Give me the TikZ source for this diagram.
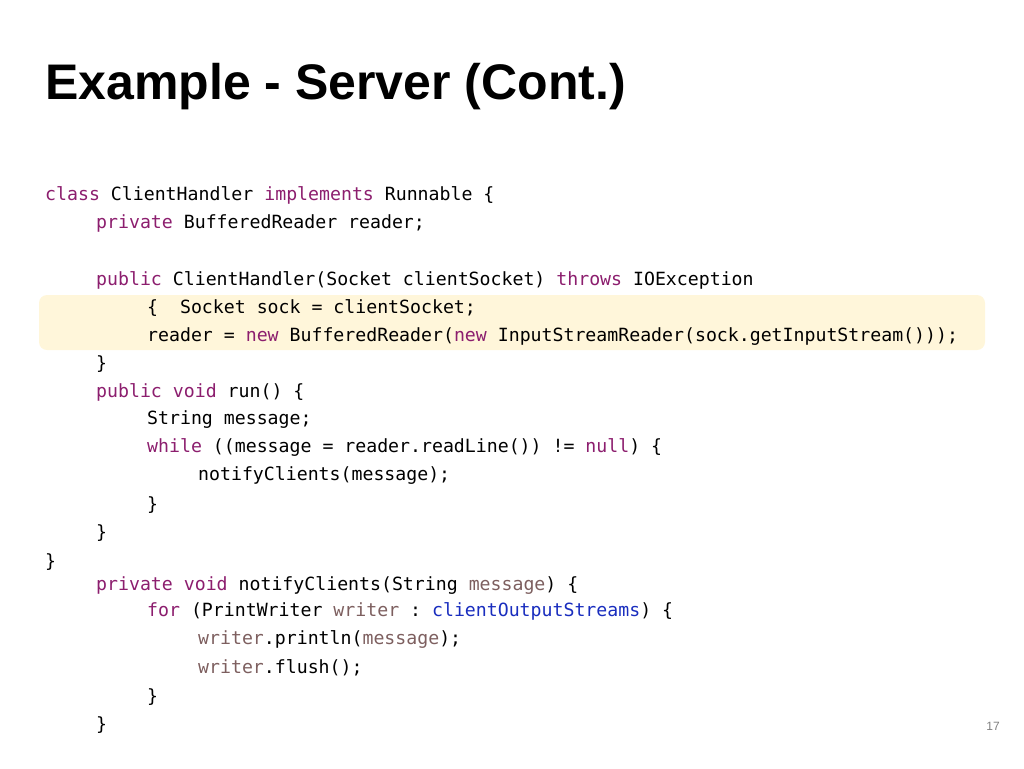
\documentclass[tikz,border=0pt]{standalone}
\usepackage{fontspec}
\setmainfont{Liberation Sans}
\setmonofont{DejaVu Sans Mono}
\definecolor{kw}{RGB}{140,30,110}
\definecolor{fld}{RGB}{125,95,95}
\definecolor{stc}{RGB}{25,45,190}
\definecolor{hl}{RGB}{255,246,218}
\newcommand{\kw}[1]{\textcolor{kw}{#1}}
\newcommand{\fl}[1]{\textcolor{fld}{#1}}
\tikzset{code/.style={anchor=west,inner sep=0,font=\fontsize{18.2}{20}\ttfamily}}
\begin{document}
\begin{tikzpicture}[x=1pt,y=-1pt]
  \useasboundingbox (0,0) rectangle (1024,768);
  \fill[hl,rounded corners=8] (39,295) rectangle (985,350);
  \node[anchor=base west,inner sep=0,font=\fontsize{50}{54}\bfseries] (title) at (45,99) {Example - Server (Cont.)};
  % code lines
  \node[code] (l1) at (45,195) {\kw{class} ClientHandler \kw{implements} Runnable \{};
  \node[code] (l2) at (96,223) {\kw{private} BufferedReader reader;};
  \node[code] (l3) at (96,280) {\kw{public} ClientHandler(Socket clientSocket) \kw{throws} IOException};
  \node[code] (l4) at (147,308) {\{\ \ Socket sock = clientSocket;};
  \node[code] (l5) at (147,337) {reader = \kw{new} BufferedReader(\kw{new} InputStreamReader(sock.getInputStream()));};
  \node[code] (l6) at (96,364) {\}};
  \node[code] (l7) at (96,392) {\kw{public} \kw{void} run() \{};
  \node[code] (l8) at (147,420) {String message;};
  \node[code] (l9) at (147,447) {\kw{while} ((message = reader.readLine()) != \kw{null}) \{};
  \node[code] (l10) at (198,475) {notifyClients(message);};
  \node[code] (l11) at (147,505) {\}};
  \node[code] (l12) at (96,533) {\}};
  \node[code] (l13) at (45,562) {\}};
  \node[code] (l14) at (96,585) {\kw{private} \kw{void} notifyClients(String \fl{message}) \{};
  \node[code] (l15) at (147,611) {\kw{for} (PrintWriter \fl{writer} : \textcolor{stc}{clientOutputStreams}) \{};
  \node[code] (l16) at (198,639) {\fl{writer}.println(\fl{message});};
  \node[code] (l17) at (198,668) {\fl{writer}.flush();};
  \node[code] (l18) at (147,697) {\}};
  \node[code] (l19) at (96,725) {\}};
  \node[anchor=east,inner sep=0,font=\fontsize{12}{14}\selectfont,text=gray] (page) at (1000,726) {17};
\end{tikzpicture}
\end{document}
